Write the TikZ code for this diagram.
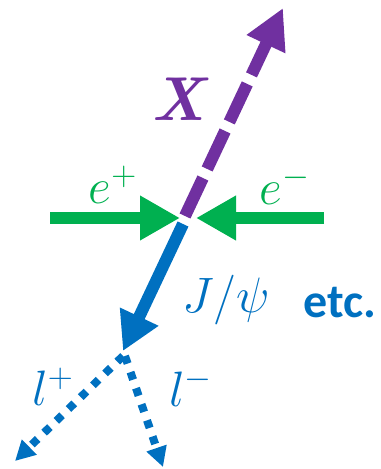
\documentclass[tikz,border=0pt]{standalone}
\usepackage{fontspec}
\setsansfont{Carlito}
\usepackage{xcolor}
\definecolor{annbeam}{HTML}{00B050}
\definecolor{annx}{HTML}{7030A0}
\definecolor{annjpsi}{HTML}{0070C0}
\usepackage{tikz}
\usetikzlibrary{arrows.meta}
\tikzset{
  annbeamline/.style={annbeam,line width=6pt,-{Triangle[length=20pt,width=21pt]}},
  annxline/.style={annx,line width=6pt,dash pattern=on 21pt off 5pt,-{Triangle[length=20pt,width=20pt]}},
  annjline/.style={annjpsi,line width=6pt,-{Triangle[length=19pt,width=20pt]}},
  annlepton/.style={annjpsi,line width=4pt,dash pattern=on 4pt off 4.5pt,-{Triangle[length=10pt,width=10pt]}},
  annmath/.style={inner sep=0pt,font=\fontsize{26}{30}\selectfont},
}

\begin{document}
\begin{tikzpicture}[x=0.5pt,y=-0.5pt]
\useasboundingbox (0,0) rectangle (380,469);
 % collision point and free ends
\coordinate (vtx) at (184,218);
\coordinate (epos) at (50,218);
\coordinate (eneg) at (324,218);
\coordinate (xend) at (283,8);
\coordinate (jend) at (123,351);
\coordinate (lpend) at (15,461);
\coordinate (lmend) at (163,467);
\draw[annxline] ([shift={(1,-2)}]vtx)--(xend);
\draw[annjline] ([shift={(-1,6)}]vtx)--(jend);
\draw[annbeamline] (epos)--([xshift=-2]vtx);
\draw[annbeamline] (eneg)--([xshift=6]vtx);
\draw[annlepton] ([shift={(0,5)}]jend)--(lpend);
\draw[annlepton] ([shift={(2,5)}]jend)--(lmend);
\node[annmath,annbeam] (lblepos) at (113,185) {$e^+$};
\node[annmath,annbeam] (lbleneg) at (285,185) {$e^-$};
\node[inner sep=0pt,annx,font=\fontsize{31}{34}\selectfont\bfseries\itshape] (lblx) at (178,99) {X};
\node[annmath,annjpsi,font=\fontsize{28}{32}\selectfont] (lblj) at (226,300) {$J/\psi$};
\node[inner sep=0pt,annjpsi,font=\fontsize{24}{28}\selectfont\sffamily\bfseries] (lbletc) at (340,303) {etc.};
\node[annmath,annjpsi] (lbllp) at (53,387) {$l^+$};
\node[annmath,annjpsi] (lbllm) at (191,387) {$l^-$};
\end{tikzpicture}
\end{document}
